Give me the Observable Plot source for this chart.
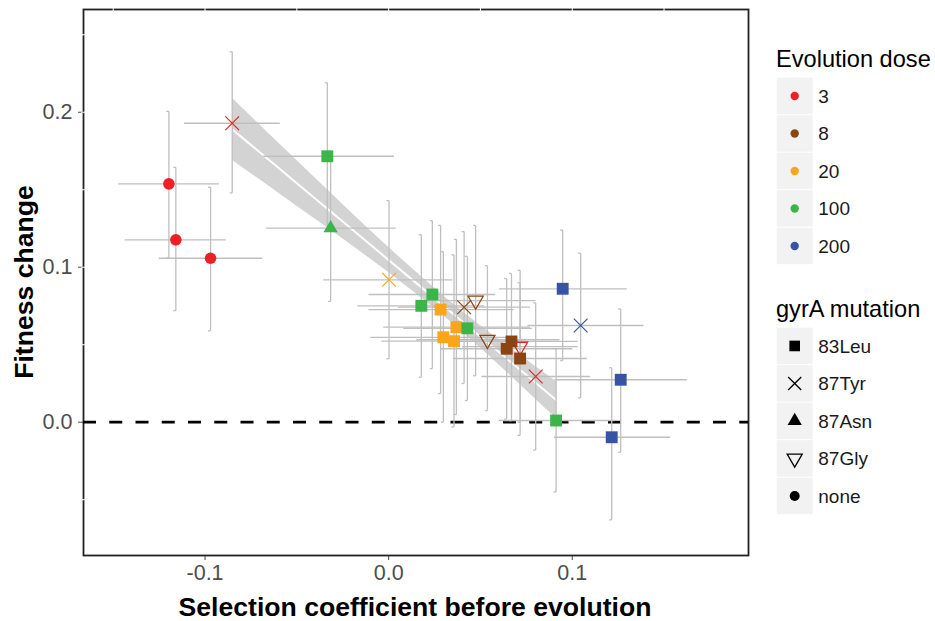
<!DOCTYPE html>
<html><head><meta charset="utf-8">
<script src="https://cdn.jsdelivr.net/npm/d3@7"></script>
<script src="https://cdn.jsdelivr.net/npm/@observablehq/plot@0.6"></script>
<style>
body{margin:0;background:#fff;font-family:"Liberation Sans",Arial,sans-serif;}
#wrap{position:relative;width:935px;height:621px;overflow:hidden;}
#chart{position:absolute;left:0;top:0;}
.title{position:absolute;font-weight:bold;font-size:26.6px;color:#000;white-space:nowrap;line-height:1;}
#legend{position:absolute;left:760px;top:0;}
</style></head><body>
<div id="wrap">
<div id="chart"></div>
<div class="title" style="left:415px;top:607px;transform:translate(-50%,-50%)">Selection coefficient before evolution</div>
<div class="title" style="left:24px;top:282px;transform:translate(-50%,-50%) rotate(-90deg)">Fitness change</div>
<svg id="legend" width="175" height="621"></svg>
</div>
<script>
// ---- data ----
const doseLevels = ["3", "8", "20", "100", "200"];
const doseColors = ["#ee1f25", "#8b4513", "#fba51a", "#3bb44a", "#3953a4"];
const mutationLevels = ["83Leu", "87Tyr", "87Asn", "87Gly", "none"];
const xTicks = [-0.1, 0, 0.1];
const yTicks = [0, 0.1, 0.2];
const gridX = [-0.15, -0.1, -0.05, 0, 0.05, 0.1, 0.15];
const gridY = [-0.05, 0.05, 0.1, 0.15, 0.2, 0.25];

const dose = [3, 3, 3, 3, 100, 100, 20, 100, 100, 20, 8, 8, 20, 100, 20, 20, 8, 8, 8, 3, 8, 3, 200, 200, 200, 100, 200];
const mutation = ["none", "none", "none", "87Tyr", "83Leu", "87Asn", "87Tyr", "83Leu", "83Leu", "83Leu", "87Tyr", "87Gly", "83Leu", "83Leu", "83Leu", "83Leu", "87Gly", "83Leu", "83Leu", "87Gly", "83Leu", "87Tyr", "83Leu", "87Tyr", "83Leu", "83Leu", "83Leu"];
const selCoef = [-0.1197, -0.1159, -0.0970, -0.0852, -0.0334, -0.0316, 0.0002, 0.0238, 0.0178, 0.0283, 0.0411, 0.0474, 0.0369, 0.0429, 0.0298, 0.0356, 0.0538, 0.0669, 0.0643, 0.0716, 0.0716, 0.0801, 0.0948, 0.1046, 0.1264, 0.0912, 0.1215];
const fitChange = [0.1538, 0.1177, 0.1058, 0.1929, 0.1716, 0.1252, 0.0919, 0.0824, 0.0751, 0.0727, 0.0742, 0.0785, 0.0613, 0.0606, 0.0548, 0.0523, 0.0532, 0.0521, 0.0474, 0.0488, 0.0411, 0.0295, 0.0861, 0.0624, 0.0274, 0.0011, -0.0097];
const selLo = [-0.1474, -0.1438, -0.1252, -0.1115, -0.0683, -0.0668, -0.0356, -0.0110, -0.0170, -0.0110, 0.0050, 0.0150, -0.0030, 0.0080, -0.0100, -0.0040, 0.0150, 0.0300, 0.0280, 0.0400, 0.0350, 0.0505, 0.0601, 0.0756, 0.0904, 0.0600, 0.0901];
const selHi = [-0.0924, -0.0887, -0.0688, -0.0593, 0.0029, 0.0038, 0.0347, 0.0580, 0.0520, 0.0680, 0.0770, 0.0800, 0.0770, 0.0780, 0.0700, 0.0750, 0.0930, 0.1030, 0.1000, 0.1030, 0.1080, 0.1097, 0.1297, 0.1388, 0.1624, 0.1230, 0.1533];
const fitLo = [0.1061, 0.0720, 0.0590, 0.1480, 0.1240, 0.0780, 0.0410, 0.0346, 0.0290, 0.0185, 0.0250, 0.0300, 0.0050, 0.0140, 0.0000, -0.0030, 0.0075, 0.0010, 0.0020, 0.0000, -0.0085, -0.0180, 0.0398, 0.0157, -0.0194, -0.0450, -0.0630];
const fitHi = [0.2006, 0.1644, 0.1516, 0.2390, 0.2190, 0.1720, 0.1430, 0.1300, 0.1210, 0.1270, 0.1230, 0.1270, 0.1180, 0.1070, 0.1100, 0.1080, 0.1010, 0.0960, 0.0927, 0.0980, 0.0900, 0.0770, 0.1240, 0.1090, 0.0731, 0.0474, 0.0351];

// smoothing band
const bandX = [-0.0850, -0.0589, -0.0316, -0.0044, 0.0300, 0.0610, 0.0916];
const bandLo = [0.1688, 0.1470, 0.1240, 0.1004, 0.0685, 0.0360, 0.0020];
const bandHi = [0.2088, 0.1790, 0.1480, 0.1176, 0.0815, 0.0526, 0.0260];
const bandFit = [0.1888, 0.1630, 0.1360, 0.1090, 0.0750, 0.0443, 0.0140];

// ---- build tables ----
const pts = dose.map((d, i) => ({
  dose: String(d), mut: mutation[i], x: selCoef[i], y: fitChange[i],
  xlo: selLo[i], xhi: selHi[i], ylo: fitLo[i], yhi: fitHi[i]
}));
const band = bandX.map((x, i) => ({x, lo: bandLo[i], hi: bandHi[i], fit: bandFit[i]}));

const nabla = {
  draw(context, size) {
    const y = -Math.sqrt(size / (Math.sqrt(3) * 3));
    context.moveTo(0, -y * 2);
    context.lineTo(-Math.sqrt(3) * y, y);
    context.lineTo(Math.sqrt(3) * y, y);
    context.closePath();
  }
};

const colorScale = {type: "ordinal", domain: doseLevels, range: doseColors};
const byMut = m => pts.filter(d => d.mut === m);
const capW = 0.0014;
const barColor = "#bfbfbf";

const plot = Plot.plot({
  width: 760, height: 621,
  marginLeft: 83, marginRight: 12, marginTop: 9, marginBottom: 66,
  style: {fontFamily: "Liberation Sans, Arial, sans-serif", fontSize: "21.5px", color: "#4d4d4d", background: "white", overflow: "visible"},
  x: {domain: [-0.1662, 0.196], ticks: xTicks, tickFormat: d => d.toFixed(1), tickSize: 5, tickPadding: 4, label: null},
  y: {domain: [-0.086, 0.2663], ticks: yTicks, tickFormat: d => d.toFixed(1), tickSize: 5, tickPadding: 6, label: null},
  color: colorScale,
  marks: [
    Plot.frame({stroke: "#222", strokeWidth: 1.8}),
    Plot.ruleX(gridX, {stroke: "white", strokeWidth: 1, insetTop: -2, insetBottom: 3}),
    Plot.ruleY(gridY, {stroke: "white", strokeWidth: 1, insetLeft: -2, insetRight: 3}),
    Plot.ruleY([0], {stroke: "black", strokeWidth: 2.8, strokeDasharray: "13,13.25"}),
    Plot.areaY(band, {x: "x", y1: "lo", y2: "hi", fill: "#d3d3d3", curve: "natural"}),
    Plot.line(band, {x: "x", y: "fit", stroke: "white", strokeWidth: 2, curve: "natural"}),
    Plot.link(pts, {x1: "xlo", x2: "xhi", y1: "y", y2: "y", stroke: barColor, strokeWidth: 1.3}),
    Plot.link(pts, {x1: "x", x2: "x", y1: "ylo", y2: "yhi", stroke: barColor, strokeWidth: 1.3}),
    Plot.link(pts, {x1: d => d.x - capW, x2: "x", y1: "ylo", y2: "ylo", stroke: barColor, strokeWidth: 1.3}),
    Plot.link(pts, {x1: d => d.x - capW, x2: "x", y1: "yhi", y2: "yhi", stroke: barColor, strokeWidth: 1.3}),
    Plot.dot(byMut("87Gly"), {x: "x", y: "y", symbol: nabla, r: 5.6, stroke: "dose", fill: "none", strokeWidth: 1.3}),
    Plot.dot(byMut("87Tyr"), {x: "x", y: "y", symbol: "times", r: 6.3, stroke: "dose", strokeWidth: 1.2}),
    Plot.dot(byMut("83Leu"), {x: "x", y: "y", symbol: "square", r: 6.7, fill: "dose", stroke: "none"}),
    Plot.dot(byMut("87Asn"), {x: "x", y: "y", symbol: "triangle", r: 5.3, fill: "dose", stroke: "none"}),
    Plot.dot(byMut("none"), {x: "x", y: "y", symbol: "circle", r: 5.8, fill: "dose", stroke: "none"})
  ]
});
document.getElementById("chart").appendChild(plot);

// ---- legend ----
const lg = d3.select("#legend");
const keyX = 16.7, keyW = 36, keyH = 36.5, step = 37.5;
function legendBlock(title, titleY, top, labels, drawKey) {
  lg.append("text").attr("x", 16).attr("y", titleY).attr("font-size", 23.6)
    .attr("font-family", "Liberation Sans, Arial, sans-serif").attr("fill", "#000").text(title);
  labels.forEach((lab, i) => {
    const y0 = top + i * step;
    lg.append("rect").attr("x", keyX).attr("y", y0).attr("width", keyW).attr("height", keyH).attr("fill", "#f2f2f2");
    drawKey(lg.append("g").attr("transform", `translate(${keyX + keyW / 2},${y0 + keyH / 2})`), i);
    lg.append("text").attr("x", 58.3).attr("y", y0 + keyH / 2).attr("dy", "0.35em").attr("font-size", 19)
      .attr("font-family", "Liberation Sans, Arial, sans-serif").attr("fill", "#1a1a1a").text(lab);
  });
}
legendBlock("Evolution dose", 66.7, 77.7, doseLevels, (g, i) => {
  g.append("circle").attr("r", 4.2).attr("fill", doseColors[i]);
});
const legendShapes = [
  {type: d3.symbolSquare, size: 6.0 * 6.0 * Math.PI, fill: "#000", stroke: "none"},
  {type: d3.symbolTimes, size: 6.0 * 6.0 * Math.PI, fill: "none", stroke: "#000"},
  {type: d3.symbolTriangle, size: 5.3 * 5.3 * Math.PI, fill: "#000", stroke: "none"},
  {type: nabla, size: 5.6 * 5.6 * Math.PI, fill: "none", stroke: "#000"},
  {type: d3.symbolCircle, size: 5.0 * 5.0 * Math.PI, fill: "#000", stroke: "none"}
];
legendBlock("gyrA mutation", 317, 327.7, mutationLevels, (g, i) => {
  const s = legendShapes[i];
  g.append("path").attr("d", d3.symbol(s.type, s.size)()).attr("fill", s.fill).attr("stroke", s.stroke).attr("stroke-width", 1.3);
});
</script>
</body></html>
